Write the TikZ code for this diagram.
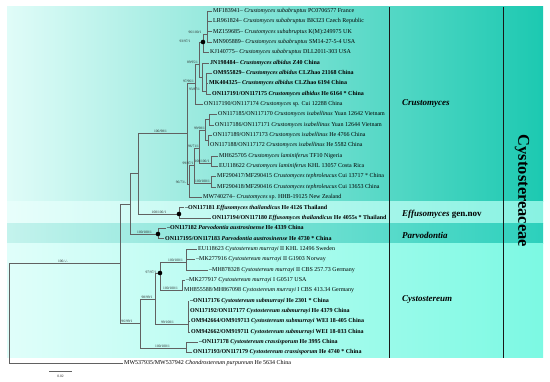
\documentclass[tikz,border=0pt]{standalone}
\usepackage{fontspec}
\setmainfont{Liberation Serif}
\definecolor{bal}{HTML}{E0FCF8}
\definecolor{bar}{HTML}{1CC9B1}
\definecolor{bbl}{HTML}{E8FEFB}
\definecolor{bbr}{HTML}{88F2E2}
\definecolor{bcl}{HTML}{C4F3ED}
\definecolor{bcr}{HTML}{2CD0BC}
\definecolor{bdl}{HTML}{E0FEFA}
\definecolor{bdr}{HTML}{7CF9E3}
\begin{document}
\begin{tikzpicture}[x=1pt,y=-1pt,
  br/.style={draw=black!62, line width=0.45pt},
  sep/.style={draw=black!90, line width=1pt},
  leaf/.style={anchor=west, inner xsep=0.6pt, inner ysep=0pt, font=\fontsize{6}{7}\selectfont, text height=4pt, text depth=1.2pt},
  bleaf/.style={leaf, font=\fontsize{6}{7}\selectfont\bfseries},
  sup/.style={inner sep=0pt, font=\fontsize{3.6}{4}\selectfont, text=black!85},
  dotnode/.style={circle, fill=black, inner sep=0pt, minimum size=4.6pt},
  clade/.style={anchor=west, inner sep=0pt, font=\fontsize{9}{10}\selectfont\bfseries\itshape},
]
\useasboundingbox (0,0) rectangle (550,382);
\fill[white] (0,0) rectangle (550,382);
% background bands
\shade[left color=bal, right color=bar] (7,7) rectangle (543,202);
\shade[left color=bbl, right color=bbr] (7,202) rectangle (543,224);
\shade[left color=bcl, right color=bcr] (7,224) rectangle (543,244);
\shade[left color=bdl, right color=bdr] (7,244) rectangle (543,358);
\draw[sep] (389,7) -- (389,358);
\draw[sep] (503,7) -- (503,358);

% leaves
\node[leaf] (l1) at (212.4,11) {MF183941\textendash{} \textit{Crustomyces subabruptus} PC0706577 France};
\node[leaf] (l2) at (212.4,21.35) {LR961824\textendash{} \textit{Crustomyces subabruptus} BK323 Czech Republic};
\node[leaf] (l3) at (212.4,31.7) {MZ159685\textendash{} \textit{Crustomyces subabruptus} K(M):249975 UK};
\node[leaf] (l4) at (212.4,42.05) {MN905889\textendash{} \textit{Crustomyces subabruptus} SM14-27-5-4 USA};
\node[leaf] (l5) at (209.4,52.4) {KJ140775\textendash{} \textit{Crustomyces subabruptus} DLL2011-303 USA};
\node[bleaf] (l6) at (209.4,62.75) {JN198484\textendash{} \textit{Crustomyces albidus} Z40 China};
\node[bleaf] (l7) at (212.4,73.1) {OM955829\textendash{} \textit{Crustomyces albidus} CLZhao 21168 China};
\node[bleaf] (l8) at (208.4,83.45) {MK404325\textendash{} \textit{Crustomyces albidus} CLZhao 6194 China};
\node[bleaf] (l9) at (211.4,93.8) {ON117191/ON117175 \textit{Crustomyces albidus} He 6164 * China};
\node[leaf] (l10) at (203.4,104.15) {ON117190/ON117174 \textit{Crustomyces} sp. Cui 12288 China};
\node[leaf] (l11) at (217.4,114.5) {ON117185/ON117170 \textit{Crustomyces isabellinus} Yuan 12642 Vietnam};
\node[leaf] (l12) at (214.4,124.85) {ON117186/ON117171 \textit{Crustomyces isabellinus} Yuan 12644 Vietnam};
\node[leaf] (l13) at (212.4,135.2) {ON117189/ON117173 \textit{Crustomyces isabellinus} He 4766 China};
\node[leaf] (l14) at (209.4,145.55) {ON117188/ON117172 \textit{Crustomyces isabellinus} He 5582 China};
\node[leaf] (l15) at (218.4,155.9) {MH625705 \textit{Crustomyces laminiferus} TF10 Nigeria};
\node[leaf] (l16) at (218.4,166.25) {EU118622 \textit{Crustomyces laminiferus} KHL 13057 Costa Rica};
\node[leaf] (l17) at (216.4,176.6) {MF290417/MF290415 \textit{Crustomyces tephroleucus} Cui 13717 * China};
\node[leaf] (l18) at (216.4,186.95) {MF290418/MF290416 \textit{Crustomyces tephroleucus} Cui 13653 China};
\node[leaf] (l19) at (202.4,197.3) {MW740274\textendash{} \textit{Crustomyces} sp. HHB-19125 New Zealand};
\node[bleaf] (l20) at (184.4,207.65) {\textendash ON117181 \textit{Effusomyces thailandicus} He 4126 Thailand};
\node[bleaf] (l21) at (211.4,218) {ON117194/ON117180 \textit{Effusomyces thailandicus} He 4055s * Thailand};
\node[bleaf] (l22) at (166.4,228.35) {\textendash ON117182 \textit{Parvodontia austrosinense} He 4339 China};
\node[bleaf] (l23) at (164.4,238.7) {ON117195/ON117183 \textit{Parvodontia austrosinense} He 4730 * China};
\node[leaf] (l24) at (197.4,249.05) {EU118623 \textit{Cystostereum murrayi} II KHL 12496 Sweden};
\node[leaf] (l25) at (195.4,259.4) {\textendash MK277916 \textit{Cystostereum murrayi} II G1903 Norway};
\node[leaf] (l26) at (208.4,269.75) {\textendash MH878328 \textit{Cystostereum murrayi} II CBS 257.73 Germany};
\node[leaf] (l27) at (185.4,280.1) {\textendash MK277917 \textit{Cystostereum murrayi} I G0517 USA};
\node[leaf] (l28) at (183.4,290.45) {MH855588/MH867098 \textit{Cystostereum murrayi} I CBS 413.34 Germany};
\node[bleaf] (l29) at (189.4,300.8) {\textendash ON117176 \textit{Cystostereum submurrayi} He 2301 * China};
\node[bleaf] (l30) at (189.4,311.15) {ON117192/ON117177 \textit{Cystostereum submurrayi} He 4379 China};
\node[bleaf] (l31) at (190.4,321.5) {OM942664/OM919713 \textit{Cystostereum submurrayi} WEI 18-405 China};
\node[bleaf] (l32) at (190.4,331.85) {OM942662/OM919711 \textit{Cystostereum submurrayi} WEI 18-033 China};
\node[bleaf] (l33) at (198.4,342.2) {\textendash ON117178 \textit{Cystostereum crassisporum} He 3995 China};
\node[bleaf] (l34) at (192.4,352.55) {ON117193/ON117179 \textit{Cystostereum crassisporum} He 4740 * China};
\node[leaf] (l35) at (123.4,362.9) {MW537935/MW537942 \textit{Chondrostereum purpureum} He 5634 China};

% internal nodes
\coordinate (S1) at (207,34.2);
\coordinate (S2) at (203,42);
\coordinate (A1) at (206,91);
\coordinate (A2) at (202,77);
\coordinate (U1) at (199,64);
\coordinate (U) at (195,83);
\coordinate (I1) at (209,119.7);
\coordinate (I1b) at (208,140.4);
\coordinate (I) at (205,130.2);
\coordinate (LAM) at (211,163);
\coordinate (J) at (199,148);
\coordinate (TEP) at (211,183);
\coordinate (K) at (194,165);
\coordinate (M) at (189,184);
\coordinate (CR) at (187,133);
\coordinate (EF) at (179,214);
\coordinate (G1) at (138,173.5);
\coordinate (PA) at (158,234);
\coordinate (G2) at (130,203.75);
\coordinate (M2) at (186,262);
\coordinate (M1) at (182,290);
\coordinate (MM) at (160,273);
\coordinate (SUB) at (188,324);
\coordinate (P) at (155,299);
\coordinate (CR2) at (186,348);
\coordinate (CY) at (140,323.5);
\coordinate (IN) at (120,263.6);
\coordinate (ROOT) at (9,313);

% branches
\foreach \c in {l1,l2,l3,l4} \draw[br] (S1) |- (\c.west);
\draw[br] (S2) |- (S1); \draw[br] (S2) |- (l5.west);
\foreach \c in {l7,l8,l9} \draw[br] (A1) |- (\c.west);
\draw[br] (A2) |- (l6.west); \draw[br] (A2) |- (A1);
\draw[br] (U1) |- (S2); \draw[br] (U1) |- (A2);
\draw[br] (U) |- (U1); \draw[br] (U) |- (l10.west);
\draw[br] (I1) |- (l11.west); \draw[br] (I1) |- (l12.west);
\draw[br] (I1b) |- (l13.west); \draw[br] (I1b) |- (l14.west);
\draw[br] (I) |- (I1); \draw[br] (I) |- (I1b);
\draw[br] (LAM) |- (l15.west); \draw[br] (LAM) |- (l16.west);
\draw[br] (J) |- (I); \draw[br] (J) |- (LAM);
\draw[br] (TEP) |- (l17.west); \draw[br] (TEP) |- (l18.west);
\draw[br] (K) |- (J); \draw[br] (K) |- (TEP);
\draw[br] (M) |- (K); \draw[br] (M) |- (l19.west);
\draw[br] (CR) |- (U); \draw[br] (CR) |- (M);
\draw[br] (EF) |- (l20.west); \draw[br] (EF) |- (l21.west);
\draw[br] (G1) |- (CR); \draw[br] (G1) |- (EF);
\draw[br] (PA) |- (l22.west); \draw[br] (PA) |- (l23.west);
\draw[br] (G2) |- (G1); \draw[br] (G2) |- (PA);
\foreach \c in {l24,l25,l26} \draw[br] (M2) |- (\c.west);
\draw[br] (M1) |- (l27.west); \draw[br] (M1) |- (l28.west);
\draw[br] (MM) |- (M2); \draw[br] (MM) |- (M1);
\foreach \c in {l29,l30,l31,l32} \draw[br] (SUB) |- (\c.west);
\draw[br] (P) |- (MM); \draw[br] (P) |- (SUB);
\draw[br] (CR2) |- (l33.west); \draw[br] (CR2) |- (l34.west);
\draw[br] (CY) |- (P); \draw[br] (CY) |- (CR2);
\draw[br] (IN) |- (G2); \draw[br] (IN) |- (CY);
\draw[br] (ROOT) |- (IN); \draw[br] (ROOT) |- (l35.west);

% black dots
\node[dotnode] (dS2) at (S2) {};
\node[dotnode] (dEF) at (EF) {};
\node[dotnode] (dPA) at (PA) {};
\node[dotnode] (dMM) at (MM) {};

% support values
\node[sup] (t1) at (195,32) {96/100/1};
\node[sup] (t2) at (185,41.5) {93/97/1};
\node[sup] (t3) at (192.5,62) {89/95/1};
\node[sup] (t4) at (188.5,81) {97/96/1};
\node[sup] (t5) at (194.5,89) {93/87/1};
\node[sup] (t6) at (199.5,128) {99/98/1};
\node[sup] (t7) at (193.5,146) {96/71/1};
\node[sup] (t8) at (188,163) {99/97/1};
\node[sup] (t9) at (202,161) {100/100/1};
\node[sup] (t10) at (202.5,181) {100/100/1};
\node[sup] (t11) at (181,182) {96/73/-};
\node[sup] (t12) at (160.5,131) {100/98/1};
\node[sup] (t13) at (159,212) {100/100/1};
\node[sup] (t14) at (144.5,232) {100/100/1};
\node[sup] (t15) at (175.5,260) {100/100/1};
\node[sup] (t16) at (170.5,288) {100/100/1};
\node[sup] (t17) at (151,272) {97/97/1};
\node[sup] (t18) at (147,297) {98/99/1};
\node[sup] (t19) at (167.5,322) {99/100/1};
\node[sup] (t20) at (162.5,346) {100/100/1};
\node[sup] (t21) at (127,321.5) {96/99/1};
\node[sup] (t22) at (63,261.5) {100/-/-};

% scale bar
\coordinate (sb1) at (49,371);
\coordinate (sb2) at (72,371);
\draw[br] (sb1) -- (sb2);
\node[sup] (sbl) at (60.5,376) {0.02};

% clade labels
\node[clade] (cCru) at (402,103) {Crustomyces};
\node[clade] (cEff) at (402,214) {Effusomyces \textup{gen.nov}};
\node[clade] (cPar) at (402,235) {Parvodontia};
\node[clade] (cCys) at (402,299) {Cystostereum};
\node[inner sep=0pt, rotate=-90, font=\fontsize{16.5}{18}\selectfont\bfseries] (fam) at (522,191) {Cystostereaceae};
\end{tikzpicture}
\end{document}
